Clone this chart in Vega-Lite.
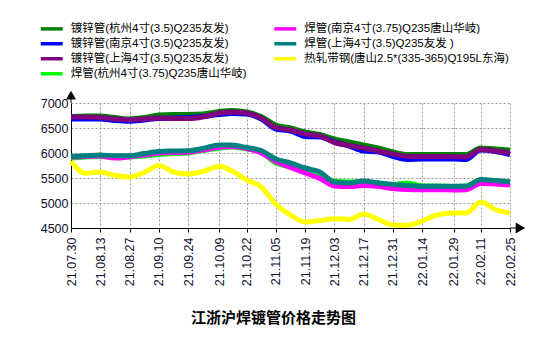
{
  "$schema": "https://vega.github.io/schema/vega-lite/v6.json",
  "width": 439,
  "height": 125,
  "autosize": "none",
  "padding": {"left": 71, "top": 103, "right": 40, "bottom": 122},
  "background": "white",
  "config": {"view": {"stroke": null}},
  "title": {
    "text": "江浙沪焊镀管价格走势图",
    "orient": "bottom",
    "anchor": "middle",
    "dx": -17,
    "offset": 25,
    "font": "Noto Sans CJK SC",
    "fontSize": 15,
    "fontWeight": "bold",
    "color": "#000"
  },
  "datasets": {
    "names": [
      {"key": "dx_hz", "name": "镀锌管(杭州4寸(3.5)Q235友发)"},
      {"key": "dx_nj", "name": "镀锌管(南京4寸(3.5)Q235友发)"},
      {"key": "dx_sh", "name": "镀锌管(上海4寸(3.5)Q235友发)"},
      {"key": "hg_hz", "name": "焊管(杭州4寸(3.75)Q235唐山华岐)"},
      {"key": "hg_nj", "name": "焊管(南京4寸(3.75)Q235唐山华岐)"},
      {"key": "hg_sh", "name": "焊管(上海4寸(3.5)Q235友发 )"},
      {"key": "rz_ts", "name": "热轧带钢(唐山2.5*(335-365)Q195L东海)"}
    ],
    "prices": [
      {"date": "2021/07/30", "dx_hz": 6730, "dx_nj": 6680, "dx_sh": 6720, "hg_hz": 5900, "hg_nj": 5920, "hg_sh": 5930, "rz_ts": 5830},
      {"date": "2021/08/06", "dx_hz": 6740, "dx_nj": 6680, "dx_sh": 6720, "hg_hz": 5920, "hg_nj": 5930, "hg_sh": 5945, "rz_ts": 5595},
      {"date": "2021/08/13", "dx_hz": 6740, "dx_nj": 6680, "dx_sh": 6710, "hg_hz": 5930, "hg_nj": 5940, "hg_sh": 5960, "rz_ts": 5620},
      {"date": "2021/08/20", "dx_hz": 6710, "dx_nj": 6650, "dx_sh": 6680, "hg_hz": 5910, "hg_nj": 5900, "hg_sh": 5945, "rz_ts": 5550},
      {"date": "2021/08/27", "dx_hz": 6680, "dx_nj": 6635, "dx_sh": 6665, "hg_hz": 5920, "hg_nj": 5925, "hg_sh": 5945, "rz_ts": 5520},
      {"date": "2021/09/03", "dx_hz": 6710, "dx_nj": 6660, "dx_sh": 6680, "hg_hz": 5940, "hg_nj": 5960, "hg_sh": 5990, "rz_ts": 5610},
      {"date": "2021/09/10", "dx_hz": 6760, "dx_nj": 6690, "dx_sh": 6700, "hg_hz": 5970, "hg_nj": 6000, "hg_sh": 6030, "rz_ts": 5750},
      {"date": "2021/09/17", "dx_hz": 6770, "dx_nj": 6700, "dx_sh": 6690, "hg_hz": 5990, "hg_nj": 6010, "hg_sh": 6040, "rz_ts": 5620},
      {"date": "2021/09/24", "dx_hz": 6770, "dx_nj": 6710, "dx_sh": 6690, "hg_hz": 6000, "hg_nj": 6015, "hg_sh": 6045, "rz_ts": 5580},
      {"date": "2021/10/01", "dx_hz": 6780, "dx_nj": 6730, "dx_sh": 6720, "hg_hz": 6050, "hg_nj": 6060, "hg_sh": 6090, "rz_ts": 5630},
      {"date": "2021/10/09", "dx_hz": 6830, "dx_nj": 6770, "dx_sh": 6800, "hg_hz": 6095, "hg_nj": 6115, "hg_sh": 6160, "rz_ts": 5733},
      {"date": "2021/10/15", "dx_hz": 6850, "dx_nj": 6790, "dx_sh": 6820, "hg_hz": 6120, "hg_nj": 6130, "hg_sh": 6160, "rz_ts": 5640},
      {"date": "2021/10/22", "dx_hz": 6820, "dx_nj": 6780, "dx_sh": 6800, "hg_hz": 6080, "hg_nj": 6090, "hg_sh": 6110, "rz_ts": 5460},
      {"date": "2021/10/29", "dx_hz": 6730, "dx_nj": 6680, "dx_sh": 6700, "hg_hz": 6010, "hg_nj": 6000, "hg_sh": 6050, "rz_ts": 5320},
      {"date": "2021/11/05", "dx_hz": 6560, "dx_nj": 6480, "dx_sh": 6510, "hg_hz": 5800, "hg_nj": 5830, "hg_sh": 5880, "rz_ts": 4975},
      {"date": "2021/11/12", "dx_hz": 6500, "dx_nj": 6440, "dx_sh": 6460, "hg_hz": 5720, "hg_nj": 5710, "hg_sh": 5800, "rz_ts": 4760},
      {"date": "2021/11/19", "dx_hz": 6420, "dx_nj": 6330, "dx_sh": 6380, "hg_hz": 5630, "hg_nj": 5600, "hg_sh": 5700, "rz_ts": 4620},
      {"date": "2021/11/26", "dx_hz": 6370, "dx_nj": 6320, "dx_sh": 6340, "hg_hz": 5520, "hg_nj": 5490, "hg_sh": 5620, "rz_ts": 4650},
      {"date": "2021/12/03", "dx_hz": 6280, "dx_nj": 6220, "dx_sh": 6210, "hg_hz": 5440, "hg_nj": 5340, "hg_sh": 5420, "rz_ts": 4686},
      {"date": "2021/12/10", "dx_hz": 6220, "dx_nj": 6140, "dx_sh": 6150, "hg_hz": 5420, "hg_nj": 5330, "hg_sh": 5400, "rz_ts": 4670},
      {"date": "2021/12/17", "dx_hz": 6160, "dx_nj": 6040, "dx_sh": 6100, "hg_hz": 5430, "hg_nj": 5350, "hg_sh": 5440, "rz_ts": 4780},
      {"date": "2021/12/24", "dx_hz": 6100, "dx_nj": 6020, "dx_sh": 6040, "hg_hz": 5400, "hg_nj": 5330, "hg_sh": 5400, "rz_ts": 4670},
      {"date": "2021/12/31", "dx_hz": 6020, "dx_nj": 5930, "dx_sh": 5980, "hg_hz": 5370, "hg_nj": 5290, "hg_sh": 5370, "rz_ts": 4560},
      {"date": "2022/01/07", "dx_hz": 5970, "dx_nj": 5870, "dx_sh": 5930, "hg_hz": 5400, "hg_nj": 5270, "hg_sh": 5350, "rz_ts": 4555},
      {"date": "2022/01/14", "dx_hz": 5970, "dx_nj": 5880, "dx_sh": 5930, "hg_hz": 5340, "hg_nj": 5265, "hg_sh": 5335, "rz_ts": 4640},
      {"date": "2022/01/21", "dx_hz": 5970, "dx_nj": 5880, "dx_sh": 5930, "hg_hz": 5340, "hg_nj": 5265, "hg_sh": 5335, "rz_ts": 4760},
      {"date": "2022/01/29", "dx_hz": 5970, "dx_nj": 5880, "dx_sh": 5930, "hg_hz": 5330, "hg_nj": 5260, "hg_sh": 5335, "rz_ts": 4800},
      {"date": "2022/02/04", "dx_hz": 5970, "dx_nj": 5870, "dx_sh": 5920, "hg_hz": 5340, "hg_nj": 5265, "hg_sh": 5335, "rz_ts": 4800},
      {"date": "2022/02/11", "dx_hz": 6100, "dx_nj": 6060, "dx_sh": 6070, "hg_hz": 5460, "hg_nj": 5390, "hg_sh": 5470, "rz_ts": 5020},
      {"date": "2022/02/18", "dx_hz": 6080, "dx_nj": 6030, "dx_sh": 6040, "hg_hz": 5440, "hg_nj": 5380, "hg_sh": 5450, "rz_ts": 4870},
      {"date": "2022/02/25", "dx_hz": 6060, "dx_nj": 5970, "dx_sh": 6000, "hg_hz": 5410, "hg_nj": 5360, "hg_sh": 5425, "rz_ts": 4800}
    ]
  },
  "layer": [
    {
      "data": {"name": "prices"},
      "transform": [
        {"fold": ["dx_hz", "dx_nj", "dx_sh", "hg_hz", "hg_nj", "hg_sh", "rz_ts"], "as": ["key", "price"]},
        {"lookup": "key", "from": {"data": {"name": "names"}, "key": "key", "fields": ["name"]}}
      ],
      "mark": {"type": "line", "interpolate": "monotone", "strokeWidth": 5},
      "encoding": {
        "x": {
          "field": "date",
          "type": "temporal",
          "scale": {"domain": [{"year": 2021, "month": 7, "date": 30}, {"year": 2022, "month": 2, "date": 25}], "nice": false},
          "axis": {
            "title": null,
            "tickCount": 40,
            "values": [
              {"year": 2021, "month": 7, "date": 30}, {"year": 2021, "month": 8, "date": 13}, {"year": 2021, "month": 8, "date": 27},
              {"year": 2021, "month": 9, "date": 10}, {"year": 2021, "month": 9, "date": 24}, {"year": 2021, "month": 10, "date": 9},
              {"year": 2021, "month": 10, "date": 22}, {"year": 2021, "month": 11, "date": 5}, {"year": 2021, "month": 11, "date": 19},
              {"year": 2021, "month": 12, "date": 3}, {"year": 2021, "month": 12, "date": 17}, {"year": 2021, "month": 12, "date": 31},
              {"year": 2022, "month": 1, "date": 14}, {"year": 2022, "month": 1, "date": 29}, {"year": 2022, "month": 2, "date": 11},
              {"year": 2022, "month": 2, "date": 25}
            ],
            "format": "%y.%m.%d",
            "labelAngle": 270,
            "labelFont": "Liberation Sans",
            "labelFontSize": 12.5,
            "labelColor": "#101030",
            "labelPadding": 5,
            "labelOverlap": false,
            "labelFlush": false,
            "tickSize": 4,
            "tickColor": "#000",
            "domainColor": "#000",
            "grid": true,
            "gridColor": "#9a9a9a",
            "gridDash": [2, 2]
          }
        },
        "y": {
          "field": "price",
          "type": "quantitative",
          "scale": {"domain": [4500, 7000], "nice": false, "zero": false},
          "axis": {
            "title": null,
            "tickCount": 40,
            "values": [4500, 5000, 5500, 6000, 6500, 7000],
            "format": "d",
            "labelFont": "Liberation Sans",
            "labelFontSize": 12.5,
            "labelColor": "#101030",
            "labelPadding": 3,
            "labelOverlap": false,
            "labelFlush": false,
            "tickSize": 0,
            "domainColor": "#000",
            "grid": true,
            "gridColor": "#9a9a9a",
            "gridDash": [2, 2]
          }
        },
        "color": {
          "field": "name",
          "type": "nominal",
          "scale": {
            "domain": [
              "镀锌管(杭州4寸(3.5)Q235友发)",
              "镀锌管(南京4寸(3.5)Q235友发)",
              "镀锌管(上海4寸(3.5)Q235友发)",
              "焊管(杭州4寸(3.75)Q235唐山华岐)",
              "焊管(南京4寸(3.75)Q235唐山华岐)",
              "焊管(上海4寸(3.5)Q235友发 )",
              "热轧带钢(唐山2.5*(335-365)Q195L东海)"
            ],
            "range": ["#008000", "#0000FF", "#800080", "#00FF00", "#FF00FF", "#008080", "#FFFF00"]
          },
          "legend": {
            "title": null,
            "orient": "none",
            "legendX": -25,
            "legendY": -80,
            "columns": 2,
            "columnPadding": 19.5,
            "rowPadding": 0,
            "padding": 0,
            "symbolType": "M-4,0H4",
            "symbolSize": 30,
            "symbolStrokeWidth": 3.5,
            "labelOffset": 13.25,
            "labelFont": "Liberation Sans, Noto Sans CJK SC",
            "labelFontSize": 11.5,
            "labelColor": "#000",
            "labelLimit": 0
          }
        }
      }
    },
    {
      "data": {"values": [{}]},
      "mark": {"type": "rule", "color": "#000", "strokeWidth": 1},
      "encoding": {
        "x": {"datum": {"year": 2022, "month": 2, "date": 25}, "type": "temporal"},
        "x2": {"datum": {"year": 2022, "month": 3, "date": 1}},
        "y": {"datum": 4500, "type": "quantitative"}
      }
    },
    {
      "data": {"values": [{}]},
      "mark": {"type": "point", "shape": "triangle-right", "filled": true, "color": "#000", "opacity": 1, "size": 120},
      "encoding": {
        "x": {"datum": {"year": 2022, "month": 3, "date": 2}, "type": "temporal"},
        "y": {"datum": 4500, "type": "quantitative"}
      }
    },
    {
      "data": {"values": [{}]},
      "mark": {"type": "rule", "color": "#000", "strokeWidth": 1},
      "encoding": {
        "x": {"datum": {"year": 2021, "month": 7, "date": 30}, "type": "temporal"},
        "y": {"datum": 7000, "type": "quantitative"},
        "y2": {"datum": 7120}
      }
    },
    {
      "data": {"values": [{}]},
      "mark": {"type": "point", "shape": "triangle-up", "filled": true, "color": "#000", "opacity": 1, "size": 100},
      "encoding": {
        "x": {"datum": {"year": 2021, "month": 7, "date": 30}, "type": "temporal"},
        "y": {"datum": 7156, "type": "quantitative"}
      }
    }
  ]
}
